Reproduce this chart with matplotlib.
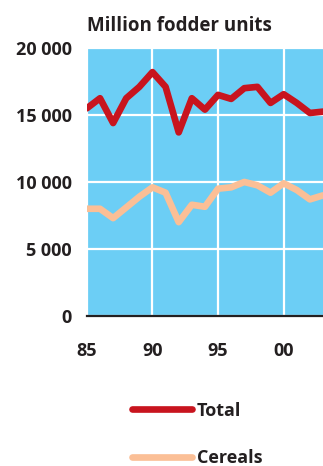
import matplotlib.pyplot as plt
from matplotlib.ticker import FuncFormatter

plt.rcParams['font.family'] = ['Open Sans', 'DejaVu Sans']

years = list(range(1985, 2004))
total = [15500, 16250, 14400, 16250, 17100, 18200, 17100, 13700, 16250, 15400,
         16500, 16200, 17000, 17100, 15900, 16550, 15900, 15150, 15250]
cereals = [8000, 8000, 7300, 8100, 8900, 9600, 9200, 7000, 8300, 8150,
           9500, 9600, 10000, 9750, 9200, 9900, 9400, 8700, 9000]
x_ticks = [1985, 1990, 1995, 2000]
x_labels = ['85', '90', '95', '00']
y_ticks = [0, 5000, 10000, 15000, 20000]

text_col = '#231f20'

fig = plt.figure(figsize=(3.23, 4.66), dpi=100)
ax = fig.add_axes([0.269, 0.322, 0.731, 0.575])
ax.set_facecolor('#6ccef5')

ax.plot(years, total, color='#c8141e', lw=4.8, solid_joinstyle='round',
        solid_capstyle='round', label='Total', zorder=3)
ax.plot(years, cereals, color='#fbbf96', lw=4.8, solid_joinstyle='round',
        solid_capstyle='round', label='Cereals', zorder=3)

ax.set_xlim(1985, 2003)
ax.set_ylim(0, 20000)
ax.set_xticks(x_ticks)
ax.set_xticklabels(x_labels)
ax.set_yticks(y_ticks)
ax.yaxis.set_major_formatter(FuncFormatter(lambda v, p: f'{int(v):,}'.replace(',', ' ')))

ax.grid(True, color='white', lw=1.6, zorder=1)
ax.set_axisbelow(True)
for s in ['top', 'right', 'left']:
    ax.spines[s].set_visible(False)
ax.spines['bottom'].set_color(text_col)
ax.spines['bottom'].set_linewidth(1.6)
ax.spines['bottom'].set_zorder(4)

ax.tick_params(length=0, labelsize=13, colors=text_col)
ax.tick_params(axis='x', pad=19)
ax.tick_params(axis='y', pad=11)
for lab in ax.get_xticklabels() + ax.get_yticklabels():
    lab.set_fontweight('bold')

fig.text(0.269, 0.945, 'Million fodder units', fontsize=13.5, fontweight='bold',
         color=text_col, ha='left', va='center')

fig.legend(loc='upper left', bbox_to_anchor=(0.41, 0.138), frameon=False,
           handlelength=3.3, handletextpad=0.25, labelspacing=1.65,
           prop={'weight': 'bold', 'size': 13}, labelcolor=text_col,
           borderaxespad=0, borderpad=0)

fig.savefig('out.png', dpi=100)
